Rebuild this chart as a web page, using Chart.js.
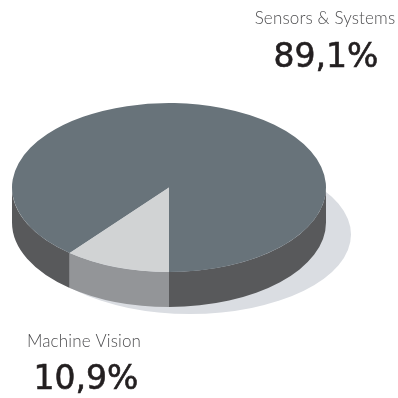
<!DOCTYPE html>
<html>
<head>
<meta charset="utf-8">
<title>Sensors & Systems / Machine Vision</title>
<script src="https://cdn.jsdelivr.net/npm/chart.js@4"></script>
<style>
  html, body { margin: 0; padding: 0; background: #fff; }
  #wrap { position: relative; width: 398px; height: 398px; }
</style>
</head>
<body>
<div id="wrap"><canvas id="pie" width="398" height="398"></canvas></div>
<script>
const categories = ['Sensors & Systems', 'Machine Vision'];
const shares = [89.1, 10.9];
const shareLabels = ['89,1%', '10,9%'];
const topColors = ['#68737a', '#d1d3d4'];
const sideColors = ['#58595b', '#939598'];

// squash + extrusion of the flat pie
const squash = 0.538;
const depth = 35;

const pie3d = {
    id: 'pie3d',
    beforeDatasetsDraw(chart) {
        const ctx = chart.ctx;
        const arcs = chart.getDatasetMeta(0).data;
        const cx = arcs[0].x, cy = arcs[0].y, r = arcs[0].outerRadius;
        const ry = r * squash;

        // shadow on the floor
        ctx.save();
        ctx.fillStyle = '#dadde2';
        ctx.beginPath();
        ctx.ellipse(cx + 21, cy + 47, r + 4, ry - 5, 0, 0, Math.PI * 2);
        ctx.fill();
        ctx.restore();

        // side wall: only the front half of each rim, swept down by depth
        arcs.forEach((arc, i) => {
            ctx.fillStyle = sideColors[i];
            for (let k = -2; k <= 1; k++) {
                const from = Math.max(arc.startAngle, k * 2 * Math.PI);
                const to = Math.min(arc.endAngle, k * 2 * Math.PI + Math.PI);
                if (to <= from) continue;
                ctx.beginPath();
                ctx.ellipse(cx, cy + depth, r, ry, 0, from, to);
                ctx.ellipse(cx, cy, r, ry, 0, to, from, true);
                ctx.closePath();
                ctx.fill();
            }
        });

        // library draws the top face through this transform
        ctx.save();
        ctx.translate(0, cy);
        ctx.scale(1, squash);
        ctx.translate(0, -cy);
    },
    afterDatasetsDraw(chart) {
        chart.ctx.restore();
    },
    afterDraw(chart) {
        const ctx = chart.ctx;
        ctx.save();
        ctx.textAlign = 'center';
        ctx.textBaseline = 'alphabetic';

        ctx.fillStyle = '#4d4d4f';
        ctx.font = '300 17px Lato';
        ctx.letterSpacing = '0.15px';
        ctx.fillText(categories[0], 325, 24);
        ctx.fillText(categories[1], 84, 347);

        ctx.fillStyle = '#231f20';
        ctx.strokeStyle = '#231f20';
        ctx.lineWidth = 0.6;
        ctx.font = '33px "DejaVu Sans"';
        ctx.letterSpacing = '0px';
        [[0, 326, 67], [1, 86, 389]].forEach(([i, x, y]) => {
            ctx.fillText(shareLabels[i], x, y);
            ctx.strokeText(shareLabels[i], x, y);
        });
        ctx.restore();
    }
};

new Chart(document.getElementById('pie'), {
    type: 'pie',
    data: {
        labels: categories,
        datasets: [{
            data: shares,
            backgroundColor: topColors,
            borderWidth: 0
        }]
    },
    options: {
        responsive: false,
        animation: false,
        rotation: 180 - shares[0] * 3.6,
        layout: { padding: { left: 12, right: 72, top: 30.5, bottom: 53.5 } },
        plugins: { legend: { display: false }, tooltip: { enabled: false } },
        events: []
    },
    plugins: [pie3d]
});
</script>
</body>
</html>
